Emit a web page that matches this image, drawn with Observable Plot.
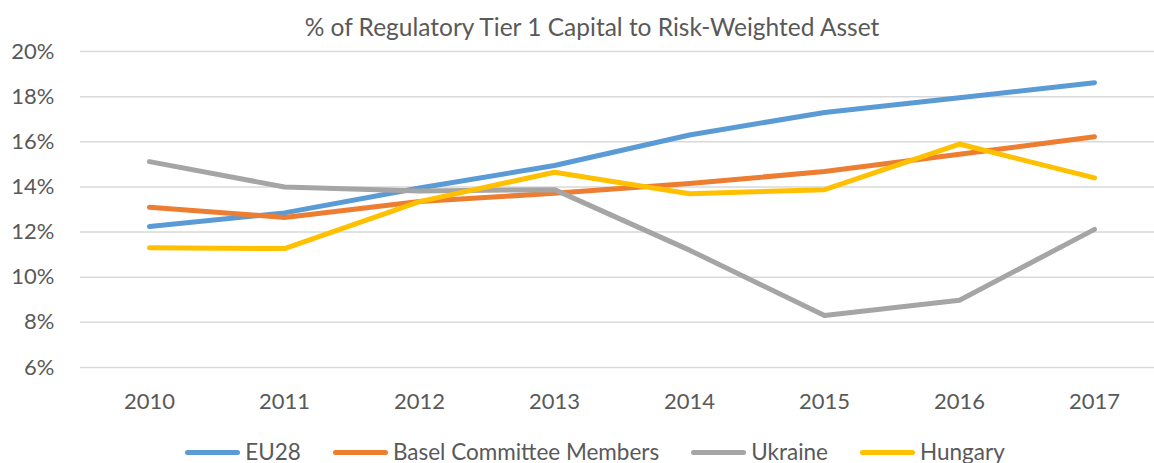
<!DOCTYPE html>
<html>
<head>
<meta charset="utf-8">
<script src="https://cdn.jsdelivr.net/npm/d3@7"></script>
<script src="https://cdn.jsdelivr.net/npm/@observablehq/plot@0.6"></script>
<style>
  html, body { margin: 0; padding: 0; background: #fff; overflow: hidden; }
  #wrap { position: relative; width: 1154px; height: 463px; font-family: Lato, "Open Sans", sans-serif; color: #595959; }
  #title { position: absolute; left: 15px; top: 12px; width: 1154px; text-align: center; font-size: 24.5px; line-height: 30px; z-index: 2; }
  #chart { position: absolute; left: 0; top: 20px; }
  #legend { position: absolute; left: 18px; top: 437px; width: 1154px; display: flex; justify-content: center; font-size: 22.5px; line-height: 30px; white-space: nowrap; }
  .item { display: flex; align-items: center; margin: 0 16px; }
  .sw { width: 55px; height: 5px; border-radius: 3px; margin-right: 5px; }
</style>
</head>
<body>
<div id="wrap">
  <div id="chart"></div>
  <div id="title">% of Regulatory Tier 1 Capital to Risk-Weighted Asset</div>
  <div id="legend"></div>
</div>
<script>
const years = ["2010", "2011", "2012", "2013", "2014", "2015", "2016", "2017"];
const seriesNames = ["EU28", "Basel Committee Members", "Ukraine", "Hungary"];
const seriesColors = ["#5B9BD5", "#ED7D31", "#A5A5A5", "#FFC000"];
const eu28 = [12.25, 12.85, 13.95, 14.95, 16.3, 17.3, 17.95, 18.62];
const basel = [13.1, 12.65, 13.35, 13.72, 14.15, 14.68, 15.45, 16.22];
const ukraine = [15.12, 14.0, 13.82, 13.88, 11.2, 8.3, 8.98, 12.12];
const hungary = [11.3, 11.27, 13.35, 14.65, 13.7, 13.88, 15.9, 14.4];
const yTicks = [6, 8, 10, 12, 14, 16, 18, 20];

const seriesValues = [eu28, basel, ukraine, hungary];
const rows = [];
seriesNames.forEach((name, s) => {
  years.forEach((yr, i) => rows.push({series: name, year: yr, value: seriesValues[s][i]}));
});

const plot = Plot.plot({
  width: 1154,
  height: 403,
  marginTop: 31,
  marginBottom: 56,
  marginLeft: 80,
  marginRight: 0,
  style: { fontFamily: "Lato, 'Open Sans', sans-serif", fontSize: "22px", color: "#595959", background: "transparent" },
  x: { type: "point", domain: years, range: [80, 1163], padding: 0.5, label: null, tickSize: 0, tickPadding: 26 },
  y: { domain: [6, 20], ticks: yTicks, tickFormat: d => d + "%", label: null, tickSize: 0, tickPadding: 26 },
  color: { domain: seriesNames, range: seriesColors },
  marks: [
    Plot.ruleY(yTicks, { stroke: "#d9d9d9", strokeWidth: 1.5 }),
    Plot.line(rows, { x: "year", y: "value", z: "series", stroke: "series", strokeWidth: 5, strokeLinecap: "round", strokeLinejoin: "round" })
  ]
});
document.getElementById("chart").appendChild(plot);

const legend = document.getElementById("legend");
seriesNames.forEach((name, i) => {
  const item = document.createElement("div");
  item.className = "item";
  const sw = document.createElement("div");
  sw.className = "sw";
  sw.style.background = seriesColors[i];
  const label = document.createElement("span");
  label.textContent = name;
  item.appendChild(sw);
  item.appendChild(label);
  legend.appendChild(item);
});
</script>
</body>
</html>
